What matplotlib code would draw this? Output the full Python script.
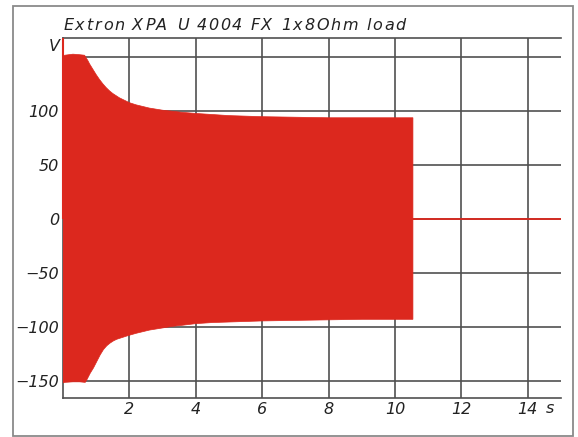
import matplotlib
matplotlib.use('agg')
import matplotlib.pyplot as plt
from matplotlib.patches import Rectangle
from matplotlib.font_manager import findfont, FontProperties
from matplotlib.ft2font import FT2Font

# burst envelope, upper edge (seconds, volts)
hi_t = [0.0, 0.05, 0.3, 0.5, 0.65, 0.7, 0.75, 0.8, 0.85, 0.9, 0.95, 1.0, 1.1, 1.2, 1.3, 1.4,
        1.5, 1.6, 1.7, 1.8, 1.9, 2.0, 2.2, 2.4, 2.6, 2.8, 3.0, 3.3, 3.6, 4.0, 4.5, 5.0,
        6.0, 7.0, 8.0, 9.0, 10.54]
hi_v = [150, 152, 153, 152.5, 152, 149.5, 147, 144, 141.5, 139, 136.5, 134, 129.5, 125.5, 122, 119,
        116.5, 114.5, 112.5, 111, 109.5, 108, 106, 104.5, 103, 102, 101, 100, 99, 98, 97, 96,
        95, 94.5, 94, 94, 94]

# burst envelope, lower edge
lo_t = [0.0, 0.05, 0.3, 0.5, 0.67, 0.72, 0.77, 0.82, 0.87, 0.92, 0.97, 1.02, 1.12, 1.22, 1.32,
        1.42, 1.52, 1.62, 1.72, 1.82, 1.92, 2.03, 2.2, 2.4, 2.6, 2.8, 3.0, 3.3, 3.6, 4.0,
        4.5, 5.0, 6.0, 7.0, 8.0, 9.0, 10.54]
lo_v = [-152, -151.5, -151, -151, -151.5, -149, -146, -143, -140.5, -138, -135, -132, -126, -121,
        -117.5, -115, -113, -111.5, -110.5, -109.5, -108.5, -107.5, -106, -104.5, -103, -102,
        -101, -99.5, -98.5, -97, -96, -95.5, -94.5, -94, -93.5, -93, -93]

# turn-on transient at t=0
spike_t = [0.0]
spike_top = [168]

# output after the burst stops
idle_t = [10.54, 15.0]
idle_v = [0, 0]

xticks = [2, 4, 6, 8, 10, 12, 14]
yticks = [-150, -100, -50, 0, 50, 100]
ygrid = [-150, -100, -50, 0, 50, 100, 150]

title = 'Extron XPA U 4004 FX 1x8Ohm load'

red = '#dc281e'
gridc = '#505050'
textc = '#222222'
DPI = 100


def tracked_text(fig, x, y, s, track, family, style, size, **kw):
    # letter-spaced string: one Text per glyph, placed by the font's own advances
    font = FT2Font(findfont(FontProperties(family=family, style=style)))
    font.set_size(size, DPI)
    pen = x * fig.bbox.width
    for ch in s:
        g = font.load_char(ord(ch))
        if ch != ' ':
            fig.text((pen + g.horiBearingX / 64) / fig.bbox.width, y, ch, ha='left',
                     family=family, style=style, size=size, **kw)
        pen += g.linearHoriAdvance / 65536 + track


fig = plt.figure(figsize=(5.78, 4.37), dpi=DPI)
fig.patch.set_facecolor('white')
fig.patches.append(Rectangle((13/578, 1/437), 560/578, 430/437, transform=fig.transFigure,
                             fill=False, edgecolor='#8a8a8a', lw=1.3))

ax = fig.add_axes([63/578, 39/437, 498/578, 360/437])
ax.set_xlim(0, 15)
ax.set_ylim(-166, 168)

for x in xticks:
    ax.axvline(x, color=gridc, lw=1.2, zorder=1)
for y in ygrid:
    ax.axhline(y, color=gridc, lw=1.2, zorder=1)

ax.fill(hi_t + lo_t[::-1], hi_v + lo_v[::-1], color=red, lw=0.5, zorder=3)
ax.vlines(spike_t, 0, spike_top, color=red, lw=1.5, zorder=4, clip_on=False)
ax.plot(idle_t, idle_v, color=red, lw=1.3, zorder=3)

for s in ['left', 'bottom', 'top']:
    ax.spines[s].set_color(gridc)
    ax.spines[s].set_linewidth(1.2)
ax.spines['right'].set_visible(False)

tfont = dict(family='DejaVu Sans', style='italic', size=11.5, color=textc)
ax.set_xticks(xticks)
ax.set_xticklabels([str(v) for v in xticks], **tfont)
ax.set_yticks(yticks)
ax.set_yticklabels([str(v).replace('-', '\u2212') for v in yticks], **tfont)
ax.tick_params(length=0, pad=3)

ax.text(-0.006, 160, 'V', ha='right', va='center', transform=ax.get_yaxis_transform(), **tfont)
ax.text(14.55, -169, 's', ha='left', va='top', **tfont)

tracked_text(fig, 63/578, 1 - 30/437, title, 1.7, 'DejaVu Sans', 'italic', 11.5,
             va='baseline', color=textc)

fig.savefig('out.png', dpi=DPI)
